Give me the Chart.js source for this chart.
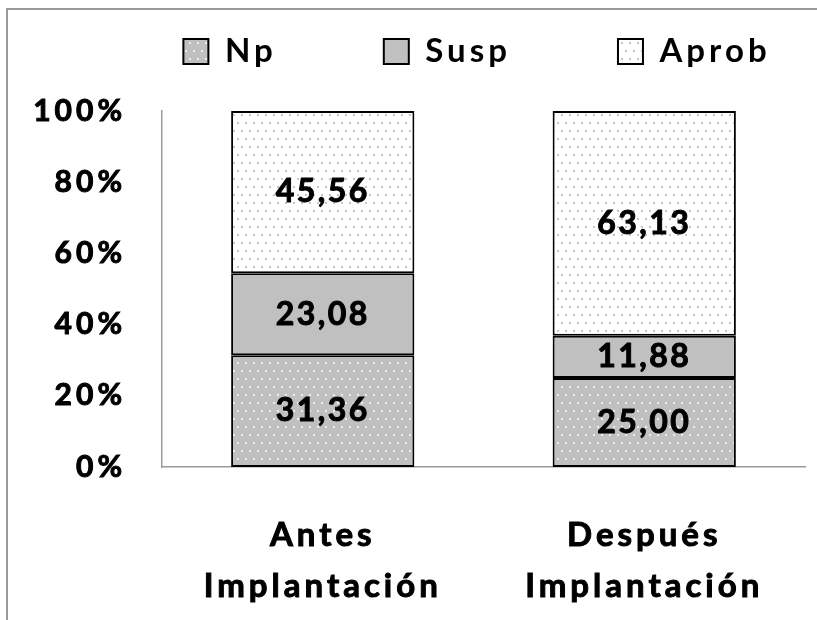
<!DOCTYPE html>
<html>
<head>
<meta charset="utf-8">
<script src="https://cdn.jsdelivr.net/npm/chart.js@4.4.1/dist/chart.umd.min.js"></script>
<style>
  body { margin: 0; background: #fff; }
  #wrap { position: relative; width: 817px; height: 620px; overflow: hidden; }
  #frame { position: absolute; left: 6px; top: 8px; width: 900px; height: 700px;
           border-top: 2px solid #9a9a9a; border-left: 2px solid #9a9a9a; }
  canvas { position: absolute; left: 0; top: 0; }
</style>
</head>
<body>
<div id="wrap">
  <div id="frame"></div>
  <canvas id="chart" width="817" height="620"></canvas>
</div>
<script>
const categories = [['Antes', 'Implantación'], ['Después', 'Implantación']];
const seriesNames = ['Np', 'Susp', 'Aprob'];
const npValues = [31.36, 25.00];
const suspValues = [23.08, 11.88];
const aprobValues = [45.56, 63.13];
const yTicks = [0, 20, 40, 60, 80, 100];

const font = "Lato, 'Open Sans', sans-serif";
const canvas = document.getElementById('chart');
const ctx = canvas.getContext('2d');

// small dotted fills like the excel patterns
function dots(bg, dot) {
  const c = document.createElement('canvas');
  c.width = 8; c.height = 16;
  const g = c.getContext('2d');
  g.fillStyle = bg;
  g.fillRect(0, 0, 8, 16);
  g.fillStyle = dot;
  g.fillRect(1, 2, 2, 2);
  g.fillRect(5, 10, 2, 2);
  return ctx.createPattern(c, 'repeat');
}

const fills = [dots('#c0c0c0', '#ececec'), '#c0c0c0', dots('#ffffff', '#c4c4c4')];
const values = [npValues, suspValues, aprobValues];

const spacing = {
  id: 'spacing',
  beforeLayout(chart) { chart.ctx.letterSpacing = '4px'; },
  beforeDraw(chart) { chart.ctx.letterSpacing = '4px'; }
};

const segmentLabels = {
  id: 'segmentLabels',
  afterDatasetsDraw(chart) {
    const c = chart.ctx;
    c.save();
    c.letterSpacing = '2.5px';
    c.font = 'bold 32px ' + font;
    c.fillStyle = '#000';
    c.strokeStyle = '#000';
    c.lineWidth = 1;
    c.textAlign = 'center';
    c.textBaseline = 'middle';
    chart.data.datasets.forEach((ds, i) => {
      chart.getDatasetMeta(i).data.forEach((bar, j) => {
        const txt = ds.data[j].toFixed(2).replace('.', ',');
        const y = (bar.y + bar.base) / 2;
        c.strokeText(txt, bar.x, y);
        c.fillText(txt, bar.x, y);
      });
    });
    c.restore();
  }
};

new Chart(ctx, {
  type: 'bar',
  data: {
    labels: categories,
    datasets: seriesNames.map((name, i) => ({
      label: name,
      data: values[i],
      backgroundColor: fills[i],
      borderColor: '#000',
      borderWidth: 2,
      borderSkipped: false,
      barPercentage: 0.57,
      categoryPercentage: 1
    }))
  },
  options: {
    responsive: false,
    animation: false,
    // legend sits right of centre, so the padding is lopsided and a blank right axis keeps the plot in place
    layout: { padding: { top: -72, left: 25, right: -112, bottom: 0 } },
    scales: {
      x: {
        stacked: true,
        afterFit: s => { s.height = 153; },
        grid: { display: false, drawTicks: false },
        border: { display: true, color: '#9a9a9a', width: 1.5 },
        ticks: {
          padding: 43, color: '#000', maxRotation: 0, autoSkip: false,
          textStrokeColor: '#000', textStrokeWidth: 1,
          font: { family: font, size: 33, weight: 'bold', lineHeight: '51px' }
        }
      },
      y: {
        stacked: true,
        min: 0,
        max: 100,
        afterBuildTicks: s => { s.ticks = yTicks.map(v => ({ value: v })); },
        afterFit: s => { s.width = 137; },
        grid: { display: false, drawTicks: false },
        border: { display: true, color: '#9a9a9a', width: 1.5 },
        ticks: {
          padding: 36, color: '#000',
          textStrokeColor: '#000', textStrokeWidth: 1,
          font: { family: font, size: 30, weight: 'bold' },
          callback: v => v + '%'
        }
      },
      y2: {
        position: 'right',
        afterFit: s => { s.width = 124; },
        grid: { display: false, drawTicks: false },
        border: { display: false },
        ticks: { display: false }
      }
    },
    plugins: {
      legend: {
        position: 'top',
        labels: {
          boxWidth: 25, boxHeight: 25, padding: 107, color: '#000',
          font: { family: font, size: 33, weight: 'bold' }
        }
      },
      // empty title only keeps the gap between legend and plot
      title: { display: true, text: '', weight: 500, padding: 0, font: { size: 12, lineHeight: '33px' } },
      tooltip: { enabled: false }
    }
  },
  plugins: [spacing, segmentLabels]
});
</script>
</body>
</html>
